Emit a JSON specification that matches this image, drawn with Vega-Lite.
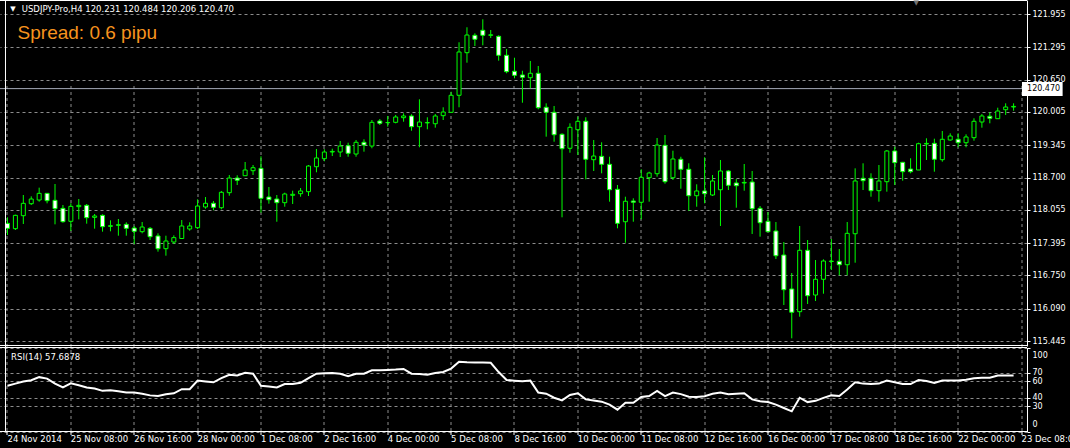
{
  "$schema": "https://vega.github.io/schema/vega-lite/v6.json",
  "width": 1027,
  "height": 432,
  "autosize": {"type": "none"},
  "padding": {"left": 0, "top": 0, "right": 43, "bottom": 16},
  "background": "#000000",
  "config": {"view": {"stroke": null}},
  "datasets": {
    "candles": [
    {"i":0,"o":117.788,"h":117.907,"l":117.556,"c":117.688,"rsi":54.5},
    {"i":1,"o":117.682,"h":117.960,"l":117.655,"c":117.947,"rsi":57},
    {"i":2,"o":117.940,"h":118.352,"l":117.775,"c":118.186,"rsi":59.5},
    {"i":3,"o":118.179,"h":118.325,"l":118.153,"c":118.272,"rsi":61},
    {"i":4,"o":118.252,"h":118.498,"l":118.219,"c":118.385,"rsi":64.7},
    {"i":5,"o":118.385,"h":118.392,"l":118.186,"c":118.239,"rsi":63},
    {"i":6,"o":118.246,"h":118.571,"l":117.768,"c":118.080,"rsi":57},
    {"i":7,"o":118.086,"h":118.153,"l":117.801,"c":117.821,"rsi":52.4},
    {"i":8,"o":117.828,"h":118.186,"l":117.635,"c":118.126,"rsi":57.3},
    {"i":9,"o":118.120,"h":118.272,"l":117.867,"c":118.146,"rsi":55},
    {"i":10,"o":118.146,"h":118.173,"l":117.781,"c":117.901,"rsi":52.4},
    {"i":11,"o":117.907,"h":117.974,"l":117.682,"c":117.934,"rsi":51.2},
    {"i":12,"o":117.947,"h":117.967,"l":117.622,"c":117.721,"rsi":48.4},
    {"i":13,"o":117.728,"h":117.848,"l":117.629,"c":117.741,"rsi":49.2},
    {"i":14,"o":117.748,"h":117.874,"l":117.542,"c":117.761,"rsi":48},
    {"i":15,"o":117.768,"h":117.808,"l":117.542,"c":117.688,"rsi":46.3},
    {"i":16,"o":117.695,"h":117.735,"l":117.376,"c":117.629,"rsi":46.3},
    {"i":17,"o":117.622,"h":117.814,"l":117.589,"c":117.715,"rsi":45},
    {"i":18,"o":117.688,"h":117.715,"l":117.456,"c":117.522,"rsi":43},
    {"i":19,"o":117.536,"h":117.589,"l":117.224,"c":117.283,"rsi":42.2},
    {"i":20,"o":117.283,"h":117.542,"l":117.144,"c":117.436,"rsi":44.3},
    {"i":21,"o":117.416,"h":117.549,"l":117.376,"c":117.503,"rsi":45.5},
    {"i":22,"o":117.486,"h":117.854,"l":117.476,"c":117.735,"rsi":50.4},
    {"i":23,"o":117.675,"h":117.808,"l":117.641,"c":117.735,"rsi":50.4},
    {"i":24,"o":117.701,"h":118.266,"l":117.675,"c":118.133,"rsi":60.6},
    {"i":25,"o":118.113,"h":118.312,"l":118.079,"c":118.187,"rsi":59.5},
    {"i":26,"o":118.187,"h":118.232,"l":118.047,"c":118.107,"rsi":58.6},
    {"i":27,"o":118.099,"h":118.432,"l":118.067,"c":118.406,"rsi":63.5},
    {"i":28,"o":118.398,"h":118.750,"l":118.338,"c":118.690,"rsi":67.6},
    {"i":29,"o":118.690,"h":118.744,"l":118.551,"c":118.645,"rsi":66.7},
    {"i":30,"o":118.736,"h":119.009,"l":118.736,"c":118.850,"rsi":70},
    {"i":31,"o":118.836,"h":118.949,"l":118.750,"c":118.895,"rsi":68.8},
    {"i":32,"o":118.883,"h":119.122,"l":118.000,"c":118.286,"rsi":54.5},
    {"i":33,"o":118.312,"h":118.511,"l":118.179,"c":118.258,"rsi":53.5},
    {"i":34,"o":118.272,"h":118.352,"l":117.820,"c":118.199,"rsi":52.4},
    {"i":35,"o":118.199,"h":118.398,"l":118.119,"c":118.372,"rsi":56.5},
    {"i":36,"o":118.346,"h":118.438,"l":118.173,"c":118.366,"rsi":56.5},
    {"i":37,"o":118.378,"h":118.491,"l":118.318,"c":118.432,"rsi":58},
    {"i":38,"o":118.418,"h":118.949,"l":118.332,"c":118.929,"rsi":63.5},
    {"i":39,"o":118.915,"h":119.268,"l":118.804,"c":119.089,"rsi":68.8},
    {"i":40,"o":119.075,"h":119.262,"l":119.023,"c":119.208,"rsi":69.2},
    {"i":41,"o":119.208,"h":119.274,"l":119.128,"c":119.220,"rsi":69.6},
    {"i":42,"o":119.208,"h":119.427,"l":119.108,"c":119.327,"rsi":68.8},
    {"i":43,"o":119.333,"h":119.393,"l":119.114,"c":119.182,"rsi":65.9},
    {"i":44,"o":119.168,"h":119.447,"l":119.114,"c":119.401,"rsi":68.8},
    {"i":45,"o":119.401,"h":119.461,"l":119.214,"c":119.347,"rsi":68.8},
    {"i":46,"o":119.327,"h":119.845,"l":119.282,"c":119.799,"rsi":72.9},
    {"i":47,"o":119.825,"h":119.865,"l":119.745,"c":119.779,"rsi":73},
    {"i":48,"o":119.791,"h":119.925,"l":119.712,"c":119.795,"rsi":73.3},
    {"i":49,"o":119.799,"h":119.945,"l":119.779,"c":119.905,"rsi":73.7},
    {"i":50,"o":119.891,"h":119.978,"l":119.811,"c":119.925,"rsi":74.5},
    {"i":51,"o":119.925,"h":119.959,"l":119.632,"c":119.712,"rsi":68.8},
    {"i":52,"o":119.712,"h":120.257,"l":119.302,"c":119.805,"rsi":68.5},
    {"i":53,"o":119.787,"h":119.899,"l":119.660,"c":119.795,"rsi":67.6},
    {"i":54,"o":119.771,"h":119.964,"l":119.692,"c":119.925,"rsi":69.6},
    {"i":55,"o":119.931,"h":120.098,"l":119.845,"c":120.004,"rsi":70.8},
    {"i":56,"o":119.998,"h":120.408,"l":119.998,"c":120.337,"rsi":74.9},
    {"i":57,"o":120.337,"h":121.392,"l":120.098,"c":121.199,"rsi":83.1},
    {"i":58,"o":121.185,"h":121.691,"l":120.986,"c":121.537,"rsi":82.5},
    {"i":59,"o":121.531,"h":121.571,"l":121.318,"c":121.452,"rsi":82.2},
    {"i":60,"o":121.631,"h":121.850,"l":121.332,"c":121.531,"rsi":82},
    {"i":61,"o":121.531,"h":121.637,"l":121.477,"c":121.541,"rsi":81.8},
    {"i":62,"o":121.511,"h":121.531,"l":121.026,"c":121.133,"rsi":70.8},
    {"i":63,"o":121.133,"h":121.259,"l":120.775,"c":120.807,"rsi":61.4},
    {"i":64,"o":120.815,"h":121.085,"l":120.675,"c":120.735,"rsi":60.5},
    {"i":65,"o":120.741,"h":120.826,"l":120.189,"c":120.695,"rsi":59.8},
    {"i":66,"o":120.687,"h":121.020,"l":120.476,"c":120.775,"rsi":60.6},
    {"i":67,"o":120.775,"h":120.920,"l":120.058,"c":120.090,"rsi":46.3},
    {"i":68,"o":120.098,"h":120.177,"l":119.513,"c":119.998,"rsi":45},
    {"i":69,"o":119.998,"h":120.124,"l":119.413,"c":119.552,"rsi":40.2},
    {"i":70,"o":119.560,"h":119.580,"l":117.908,"c":119.274,"rsi":37},
    {"i":71,"o":119.282,"h":119.779,"l":119.194,"c":119.700,"rsi":43.5},
    {"i":72,"o":119.652,"h":119.911,"l":119.148,"c":119.819,"rsi":45.5},
    {"i":73,"o":119.819,"h":119.899,"l":118.664,"c":119.063,"rsi":38.2},
    {"i":74,"o":119.055,"h":119.447,"l":118.830,"c":119.128,"rsi":37},
    {"i":75,"o":119.122,"h":119.401,"l":118.784,"c":118.963,"rsi":35.5},
    {"i":76,"o":118.963,"h":119.114,"l":118.219,"c":118.457,"rsi":32},
    {"i":77,"o":118.465,"h":118.551,"l":117.689,"c":117.788,"rsi":26},
    {"i":78,"o":117.820,"h":118.318,"l":117.402,"c":118.227,"rsi":34.1},
    {"i":79,"o":118.232,"h":118.286,"l":117.820,"c":118.207,"rsi":34.1},
    {"i":80,"o":118.207,"h":118.864,"l":117.868,"c":118.704,"rsi":41},
    {"i":81,"o":118.696,"h":118.816,"l":118.219,"c":118.790,"rsi":42.2},
    {"i":82,"o":118.776,"h":119.487,"l":118.716,"c":119.347,"rsi":48.4},
    {"i":83,"o":119.341,"h":119.546,"l":118.577,"c":118.617,"rsi":42.2},
    {"i":84,"o":118.696,"h":119.234,"l":118.651,"c":119.069,"rsi":46.3},
    {"i":85,"o":119.063,"h":119.114,"l":118.477,"c":118.864,"rsi":44.5},
    {"i":86,"o":118.864,"h":118.983,"l":118.033,"c":118.338,"rsi":41.5},
    {"i":87,"o":118.338,"h":118.565,"l":118.119,"c":118.432,"rsi":41},
    {"i":88,"o":118.432,"h":119.102,"l":118.187,"c":118.378,"rsi":42},
    {"i":89,"o":118.352,"h":118.750,"l":118.332,"c":118.631,"rsi":45},
    {"i":90,"o":118.457,"h":119.049,"l":117.735,"c":118.830,"rsi":46.3},
    {"i":91,"o":118.830,"h":118.850,"l":118.451,"c":118.545,"rsi":44.3},
    {"i":92,"o":118.591,"h":118.670,"l":118.099,"c":118.537,"rsi":45},
    {"i":93,"o":118.591,"h":118.969,"l":118.438,"c":118.603,"rsi":45.5},
    {"i":94,"o":118.611,"h":118.830,"l":117.576,"c":118.079,"rsi":38.2},
    {"i":95,"o":118.087,"h":118.133,"l":117.522,"c":117.800,"rsi":36},
    {"i":96,"o":117.828,"h":118.014,"l":117.621,"c":117.621,"rsi":35},
    {"i":97,"o":117.635,"h":117.814,"l":117.078,"c":117.143,"rsi":32},
    {"i":98,"o":117.157,"h":117.416,"l":116.162,"c":116.467,"rsi":28},
    {"i":99,"o":116.481,"h":116.799,"l":115.499,"c":116.017,"rsi":24},
    {"i":100,"o":116.029,"h":117.735,"l":115.929,"c":117.251,"rsi":40.2},
    {"i":101,"o":117.251,"h":117.456,"l":116.182,"c":116.347,"rsi":35},
    {"i":102,"o":116.361,"h":117.058,"l":116.242,"c":116.674,"rsi":36.5},
    {"i":103,"o":116.674,"h":117.072,"l":116.387,"c":117.038,"rsi":40},
    {"i":104,"o":117.028,"h":117.476,"l":116.859,"c":117.036,"rsi":43},
    {"i":105,"o":117.032,"h":117.277,"l":116.753,"c":116.964,"rsi":42.2},
    {"i":106,"o":116.964,"h":117.814,"l":116.753,"c":117.589,"rsi":50},
    {"i":107,"o":117.581,"h":118.883,"l":117.004,"c":118.631,"rsi":58.5},
    {"i":108,"o":118.684,"h":118.983,"l":118.451,"c":118.637,"rsi":57},
    {"i":109,"o":118.684,"h":118.784,"l":118.318,"c":118.438,"rsi":56.5},
    {"i":110,"o":118.438,"h":118.949,"l":118.219,"c":118.631,"rsi":57},
    {"i":111,"o":118.617,"h":119.248,"l":118.418,"c":119.228,"rsi":60.6},
    {"i":112,"o":119.228,"h":119.313,"l":118.551,"c":118.995,"rsi":58.6},
    {"i":113,"o":119.003,"h":119.010,"l":118.637,"c":118.816,"rsi":56.5},
    {"i":114,"o":118.869,"h":119.083,"l":118.784,"c":118.816,"rsi":56.5},
    {"i":115,"o":118.850,"h":119.393,"l":118.850,"c":119.373,"rsi":61.4},
    {"i":116,"o":119.367,"h":119.481,"l":119.049,"c":119.379,"rsi":60},
    {"i":117,"o":119.381,"h":119.473,"l":118.816,"c":119.063,"rsi":57.8},
    {"i":118,"o":119.055,"h":119.626,"l":119.015,"c":119.461,"rsi":60.6},
    {"i":119,"o":119.447,"h":119.580,"l":119.433,"c":119.526,"rsi":60.6},
    {"i":120,"o":119.461,"h":119.580,"l":119.302,"c":119.393,"rsi":60.6},
    {"i":121,"o":119.393,"h":119.560,"l":119.302,"c":119.507,"rsi":61.5},
    {"i":122,"o":119.493,"h":119.879,"l":119.433,"c":119.819,"rsi":63.5},
    {"i":123,"o":119.805,"h":119.964,"l":119.692,"c":119.925,"rsi":63.9},
    {"i":124,"o":119.919,"h":119.998,"l":119.779,"c":119.879,"rsi":64},
    {"i":125,"o":119.871,"h":120.090,"l":119.871,"c":120.024,"rsi":66.7},
    {"i":126,"o":120.050,"h":120.177,"l":119.945,"c":120.104,"rsi":66.7},
    {"i":127,"o":120.104,"h":120.177,"l":120.030,"c":120.116,"rsi":66.7}
    ],
    "notes": [
      {"note": "header", "text": "USDJPY-Pro,H4  120.231 120.484 120.206 120.470"}
    ]
  },
  "layer": [
    {
      "layer": [
        {
          "data": {"name": "notes"},
          "mark": {"type": "rule", "color": "#a6aab8", "strokeWidth": 1},
          "encoding": {
            "y": {"datum": 120.47, "type": "quantitative",
              "scale": {"domain": [115.346, 122.234], "range": [346, 0], "nice": false, "zero": false},
              "axis": {"orient": "right", "title": null, "values": [115.445,116.09,116.75,117.395,118.055,118.7,119.345,120.005,120.65,121.295,121.955], "format": ".3f", "grid": true, "gridColor": "#8c8c8c", "gridDash": [3, 3], "domain": true, "domainColor": "#ffffff", "ticks": true, "tickSize": 3, "tickColor": "#ffffff", "labelColor": "#ffffff", "labelFont": "DejaVu Sans", "labelFontSize": 8, "labelPadding": 2, "labelOverlap": false, "labelFlush": false}}
          }
        },
        {
          "data": {"name": "candles"},
          "mark": {"type": "rule", "color": "#00ff00", "strokeWidth": 1},
          "encoding": {
            "x": {
              "field": "i", "type": "quantitative",
              "scale": {"domain": [-0.3125, 128.0625], "nice": false, "zero": false},
              "axis": {
                "orient": "bottom", "title": null, "translate": 0,
                "values": [0,4,8,12,16,20,24,28,32,36,40,44,48,52,56,60,64,68,72,76,80,84,88,92,96,100,104,108,112,116,120,124,128],
                "grid": true, "gridColor": "#8c8c8c", "gridDash": [3, 3], "gridWidth": 1,
                "domain": false, "ticks": true, "tickSize": 3, "tickColor": "#ffffff",
                "labelAlign": "left", "labelBaseline": "top", "labelPadding": 0,
                "labelColor": "#ffffff", "labelFont": "DejaVu Sans", "labelFontSize": 8.5,
                "labelOverlap": false, "labelBound": false, "labelFlush": false,
                "labelExpr": "datum.value % 8 === 0 ? ['24 Nov 2014','25 Nov 08:00','26 Nov 16:00','28 Nov 00:00','1 Dec 08:00','2 Dec 16:00','4 Dec 00:00','5 Dec 08:00','8 Dec 16:00','10 Dec 00:00','11 Dec 08:00','12 Dec 16:00','16 Dec 00:00','17 Dec 08:00','18 Dec 16:00','22 Dec 00:00','23 Dec 08:00'][datum.value / 8] : ''",
                "encode": {
                  "ticks": {"update": {"opacity": {"signal": "datum.value % 8 === 0 ? 1 : 0"}}},
                  "grid": {"update": {"opacity": {"signal": "datum.value === 0 || datum.value === 128 ? 0 : 1"}}}
                }
              }
            },
            "y": {"field": "l", "type": "quantitative",
              "scale": {"domain": [115.346, 122.234], "range": [346, 0], "nice": false, "zero": false}},
            "y2": {"field": "h"}
          }
        },
        {
          "data": {"name": "candles"},
          "mark": {"type": "bar", "width": 4, "stroke": "#00ff00", "strokeWidth": 1},
          "encoding": {
            "x": {"field": "i", "type": "quantitative", "scale": {"domain": [-0.3125, 128.0625], "nice": false, "zero": false}},
            "y": {"field": "o", "type": "quantitative",
              "scale": {"domain": [115.346, 122.234], "range": [346, 0], "nice": false, "zero": false}},
            "y2": {"field": "c"},
            "fill": {"condition": {"test": "datum.c < datum.o", "value": "#ffffff"}, "value": "#000000"}
          }
        },
        {
          "data": {"name": "notes"},
          "mark": {"type": "rule", "color": "#ffffff", "strokeWidth": 1},
          "encoding": {
            "y": {"datum": 122.224, "type": "quantitative",
              "scale": {"domain": [115.346, 122.234], "range": [346, 0], "nice": false, "zero": false}}
          }
        },
        {
          "data": {"name": "notes"},
          "mark": {"type": "rule", "color": "#ffffff", "strokeWidth": 1},
          "encoding": {
            "y": {"datum": 115.356, "type": "quantitative",
              "scale": {"domain": [115.346, 122.234], "range": [346, 0], "nice": false, "zero": false}}
          }
        },
        {
          "data": {"name": "notes"},
          "mark": {"type": "rule", "color": "#ffffff", "strokeWidth": 1},
          "encoding": {
            "x": {"datum": -0.25, "type": "quantitative", "scale": {"domain": [-0.3125, 128.0625], "nice": false, "zero": false}}
          }
        },
        {
          "data": {"name": "notes"},
          "mark": {"type": "text", "align": "center", "baseline": "middle", "font": "DejaVu Sans", "fontSize": 7, "color": "#ffffff"},
          "encoding": {
            "x": {"datum": 0.69, "type": "quantitative", "scale": {"domain": [-0.3125, 128.0625], "nice": false, "zero": false}},
            "y": {"datum": 122.06, "type": "quantitative",
              "scale": {"domain": [115.346, 122.234], "range": [346, 0], "nice": false, "zero": false}},
            "text": {"value": "▼"}
          }
        },
        {
          "data": {"name": "notes"},
          "mark": {"type": "text", "align": "left", "baseline": "middle", "font": "DejaVu Sans", "fontSize": 8.5, "color": "#ffffff"},
          "encoding": {
            "x": {"datum": 1.8, "type": "quantitative", "scale": {"domain": [-0.3125, 128.0625], "nice": false, "zero": false}},
            "y": {"datum": 122.055, "type": "quantitative",
              "scale": {"domain": [115.346, 122.234], "range": [346, 0], "nice": false, "zero": false}},
            "text": {"field": "text"}
          }
        },
        {
          "data": {"name": "notes"},
          "mark": {"type": "text", "align": "center", "baseline": "middle", "font": "DejaVu Sans", "fontSize": 7, "color": "#707070"},
          "encoding": {
            "x": {"datum": 114.7, "type": "quantitative", "scale": {"domain": [-0.3125, 128.0625], "nice": false, "zero": false}},
            "y": {"datum": 122.17, "type": "quantitative",
              "scale": {"domain": [115.346, 122.234], "range": [346, 0], "nice": false, "zero": false}},
            "text": {"value": "▼"}
          }
        },
        {
          "data": {"name": "notes"},
          "mark": {"type": "text", "align": "left", "baseline": "alphabetic", "font": "Liberation Sans", "fontSize": 19, "color": "#f7931e"},
          "encoding": {
            "x": {"datum": 1.275, "type": "quantitative", "scale": {"domain": [-0.3125, 128.0625], "nice": false, "zero": false}},
            "y": {"datum": 121.452, "type": "quantitative",
              "scale": {"domain": [115.346, 122.234], "range": [346, 0], "nice": false, "zero": false}},
            "text": {"value": "Spread: 0.6 pipu"}
          }
        },
        {
          "data": {"name": "notes"},
          "mark": {"type": "rect", "color": "#ffffff"},
          "encoding": {
            "x": {"datum": 128.06, "type": "quantitative", "scale": {"domain": [-0.3125, 128.0625], "nice": false, "zero": false}},
            "x2": {"datum": 133.19},
            "y": {"datum": 120.602, "type": "quantitative",
              "scale": {"domain": [115.346, 122.234], "range": [346, 0], "nice": false, "zero": false}},
            "y2": {"datum": 120.323}
          }
        },
        {
          "data": {"name": "notes"},
          "mark": {"type": "text", "align": "left", "baseline": "middle", "font": "DejaVu Sans", "fontSize": 8, "color": "#000000"},
          "encoding": {
            "x": {"datum": 128.7, "type": "quantitative", "scale": {"domain": [-0.3125, 128.0625], "nice": false, "zero": false}},
            "y": {"datum": 120.47, "type": "quantitative",
              "scale": {"domain": [115.346, 122.234], "range": [346, 0], "nice": false, "zero": false}},
            "text": {"value": "120.470"}
          }
        }
      ]
    },
    {
      "layer": [
        {
          "data": {"name": "candles"},
          "mark": {"type": "line", "color": "#ffffff", "strokeWidth": 2},
          "encoding": {
            "x": {"field": "i", "type": "quantitative", "scale": {"domain": [-0.3125, 128.0625], "nice": false, "zero": false}},
            "y": {"field": "rsi", "type": "quantitative",
              "scale": {"domain": [0, 100], "range": [431.5, 347.5], "nice": false, "zero": false},
              "axis": {"orient": "right", "title": null, "values": [0, 30, 40, 60, 70, 100], "format": "d", "grid": true, "gridColor": "#8c8c8c", "gridDash": [3, 3], "domain": true, "domainColor": "#ffffff", "ticks": true, "tickSize": 3, "tickColor": "#ffffff", "labelColor": "#ffffff", "labelFont": "DejaVu Sans", "labelFontSize": 8, "labelPadding": 2, "labelOverlap": false, "labelFlush": true, "labelFlushOffset": -3.5}}
          }
        },
        {
          "data": {"name": "notes"},
          "mark": {"type": "rule", "color": "#ffffff", "strokeWidth": 1},
          "encoding": {
            "y": {"datum": 100, "type": "quantitative",
              "scale": {"domain": [0, 100], "range": [431.5, 347.5], "nice": false, "zero": false}}
          }
        },
        {
          "data": {"name": "notes"},
          "mark": {"type": "rule", "color": "#ffffff", "strokeWidth": 1},
          "encoding": {
            "y": {"datum": 0, "type": "quantitative",
              "scale": {"domain": [0, 100], "range": [431.5, 347.5], "nice": false, "zero": false}}
          }
        },
        {
          "data": {"name": "notes"},
          "mark": {"type": "text", "align": "left", "baseline": "middle", "font": "DejaVu Sans", "fontSize": 8.5, "color": "#ffffff"},
          "encoding": {
            "x": {"datum": 0.46, "type": "quantitative", "scale": {"domain": [-0.3125, 128.0625], "nice": false, "zero": false}},
            "y": {"datum": 89, "type": "quantitative",
              "scale": {"domain": [0, 100], "range": [431.5, 347.5], "nice": false, "zero": false}},
            "text": {"value": "RSI(14) 57.6878"}
          }
        }
      ]
    }
  ],
  "resolve": {"scale": {"y": "independent"}, "axis": {"y": "independent"}}
}
